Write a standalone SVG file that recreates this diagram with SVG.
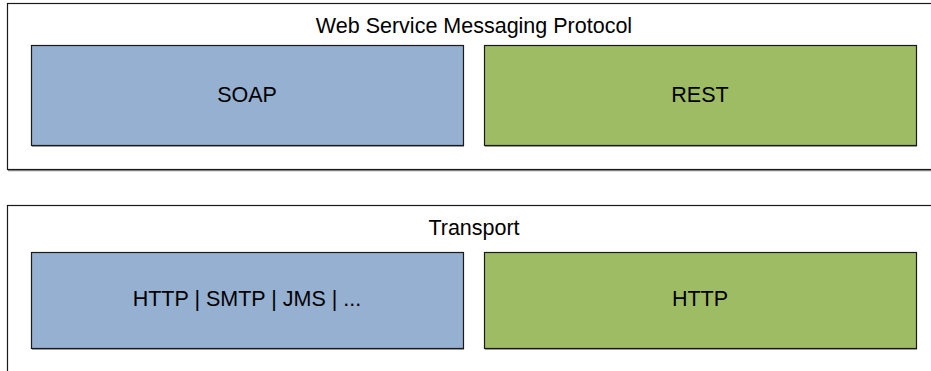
<svg xmlns="http://www.w3.org/2000/svg" width="931" height="371" viewBox="0 0 931 371">
<style>
.outer{fill:#ffffff;stroke:#1a1a1a;stroke-width:1.2}
.blue{fill:#95b0d0;stroke:#1a1a1a;stroke-width:1.2}
.green{fill:#9ebc63;stroke:#1a1a1a;stroke-width:1.2}
.shadow{fill:none;stroke:#8a8a8a;stroke-width:1.5}
text{font-family:"Liberation Sans",Arial,sans-serif;font-size:21.5px;fill:#000;text-anchor:middle}
</style>
<rect width="931" height="371" fill="#ffffff"/>
<g id="messaging">
<line class="shadow" x1="8" y1="170.5" x2="931" y2="170.5"/>
<rect class="outer" x="7.5" y="3.5" width="930" height="166"/>
<text x="474" y="33">Web Service Messaging Protocol</text>
</g>
<g id="soap">
<line class="shadow" x1="32" y1="146" x2="464" y2="146"/>
<rect class="blue" x="31.5" y="45.5" width="432" height="100"/>
<text x="247" y="102">SOAP</text>
</g>
<g id="rest">
<line class="shadow" x1="485" y1="146" x2="917" y2="146"/>
<rect class="green" x="484.5" y="45.5" width="432" height="100"/>
<text x="700" y="102">REST</text>
</g>
<g id="transport">
<rect class="outer" x="7.5" y="205.5" width="930" height="180"/>
<text x="474" y="235">Transport</text>
</g>
<g id="soap-transport">
<line class="shadow" x1="32" y1="349" x2="464" y2="349"/>
<rect class="blue" x="31.5" y="252.5" width="432" height="96"/>
<text x="247" y="306">HTTP | SMTP | JMS | ...</text>
</g>
<g id="rest-transport">
<line class="shadow" x1="485" y1="349" x2="917" y2="349"/>
<rect class="green" x="484.5" y="252.5" width="432" height="96"/>
<text x="700" y="306">HTTP</text>
</g>
<g id="connectors"></g>
</svg>
